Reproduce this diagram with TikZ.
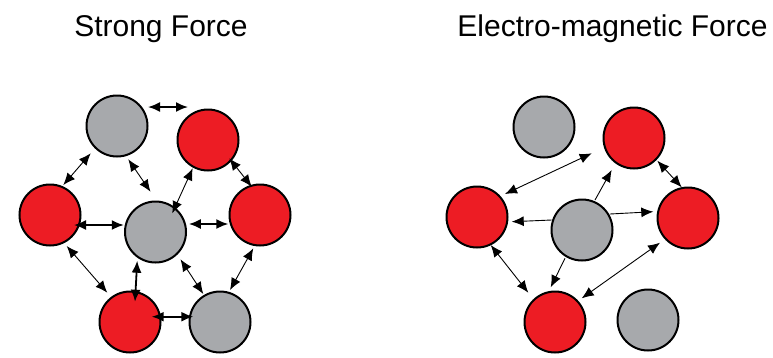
\documentclass[tikz,border=0pt]{standalone}
\usepackage{fontspec}
\setmainfont{Liberation Sans}
\usetikzlibrary{arrows.meta}
\definecolor{pred}{HTML}{ED1C24}
\definecolor{pgray}{HTML}{A7A9AC}
\begin{document}
\begin{tikzpicture}[x=1pt,y=-1pt,
  ball/.style={circle,draw=black,line width=2pt,minimum size=61pt,inner sep=0pt},
  proton/.style={ball,fill=pred},
  neutron/.style={ball,fill=pgray},
  arr/.style={line width=0.9pt,{Latex[length=12pt,width=10pt]}-{Latex[length=12pt,width=10pt]}},
  arrs/.style={line width=0.9pt,-{Latex[length=12pt,width=10pt]}},
  thickarr/.style={arr,line width=1.8pt},
  title/.style={font=\fontsize{30}{36}\selectfont,anchor=base}]
\useasboundingbox (0,0) rectangle (773,357);
\node[title] (t1) at (161,36) {Strong Force};
\node[title] (t2) at (612.5,36) {Electro-magnetic Force};
% left cluster
\node[neutron] (gt) at (117,126) {};
\node[proton] (rtr) at (208,140) {};
\node[proton] (rl) at (50,215) {};
\node[neutron] (gc) at (155.5,232) {};
\node[proton] (rr) at (260,215) {};
\node[proton] (rb) at (130,322) {};
\node[neutron] (gbr) at (220,322) {};
\draw[thickarr] ([shift={(31,-19)}]gt.center) -- ([shift={(-20,-33)}]rtr.center);
\draw[arr] ([shift={(-26.3,27.3)}]gt.center) -- ([shift={(13.3,-30)}]rl.center);
\draw[arr] ([shift={(11.3,33.3)}]gt.center) -- ([shift={(-5,-40.3)}]gc.center);
\draw[arr] ([shift={(-15.3,28.3)}]rtr.center) -- ([shift={(16.7,-18.7)}]gc.center);
\draw[arr] ([shift={(21.3,18.3)}]rtr.center) -- ([shift={(-8.3,-28.3)}]rr.center);
\draw[thickarr] ([shift={(24,10)}]rl.center) -- ([shift={(-31.7,-7)}]gc.center);
\draw[thickarr] ([shift={(33.3,-8)}]gc.center) -- ([shift={(-31.7,9)}]rr.center);
\draw[arr] ([shift={(16.7,31)}]rl.center) -- ([shift={(-22.7,-29.3)}]rb.center);
\draw[thickarr] ([shift={(-18.3,28.7)}]gc.center) -- ([shift={(5,-20.3)}]rb.center);
\draw[arr] ([shift={(25,27.3)}]gc.center) -- ([shift={(-16.7,-28)}]gbr.center);
\draw[arr] ([shift={(-6.7,33.3)}]rr.center) -- ([shift={(10,-32)}]gbr.center);
\draw[thickarr] ([shift={(21.7,-5.3)}]rb.center) -- ([shift={(-26.7,-5.3)}]gbr.center);
% right cluster
\node[neutron] (gt2) at (544,127) {};
\node[proton] (rt2) at (634,138) {};
\node[proton] (rl2) at (477,217) {};
\node[neutron] (gc2) at (582,230) {};
\node[proton] (rr2) at (688,218) {};
\node[proton] (rb2) at (555,322) {};
\node[neutron] (gbr2) at (648,320) {};
\draw[arr] ([shift={(28,-23)}]rl2.center) -- ([shift={(-42.3,15.3)}]rt2.center);
\draw[arrs] ([shift={(13,-30)}]gc2.center) -- ([shift={(-22.3,32)}]rt2.center);
\draw[arr] ([shift={(23.3,22.7)}]rt2.center) -- ([shift={(-6.3,-30.7)}]rr2.center);
\draw[arrs] ([shift={(-30.3,-10)}]gc2.center) -- ([shift={(34.7,4.7)}]rl2.center);
\draw[arrs] ([shift={(28,-16)}]gc2.center) -- ([shift={(-34.7,-6.3)}]rr2.center);
\draw[arr] ([shift={(13.7,28)}]rl2.center) -- ([shift={(-26.7,-29.3)}]rb2.center);
\draw[arrs] ([shift={(-17,28.3)}]gc2.center) -- ([shift={(-4.3,-34.7)}]rb2.center);
\draw[arr] ([shift={(-28,24.7)}]rr2.center) -- ([shift={(26.7,-23.7)}]rb2.center);
\end{tikzpicture}
\end{document}
